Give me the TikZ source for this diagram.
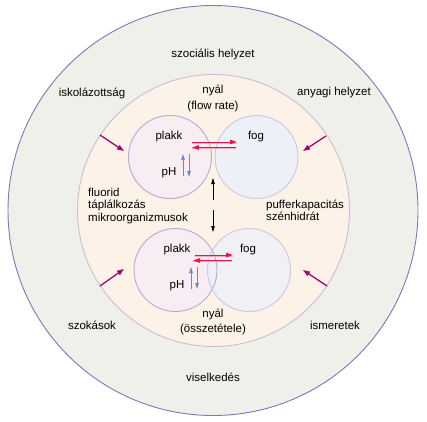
\documentclass[tikz,border=0pt]{standalone}
\usepackage{fontspec}
\setmainfont{Liberation Sans}
\usepackage{xcolor}
\usepackage{tikz}
\usetikzlibrary{arrows.meta}
\definecolor{kgray}{HTML}{F0F0EB}
\definecolor{kpeach}{HTML}{FDF2E7}
\definecolor{kpink}{HTML}{F8EDF3}
\definecolor{kblue}{HTML}{EEF0F8}
\definecolor{kring}{HTML}{8474B8}
\definecolor{kringlight}{HTML}{CDBBD8}
\definecolor{kcircle}{HTML}{B9A9D2}
\definecolor{kred}{HTML}{E0184A}
\definecolor{kredlight}{HTML}{F6A8BC}
\definecolor{kbluearr}{HTML}{7385C6}
\definecolor{kmagenta}{HTML}{9A0A6E}

\begin{document}
\begin{tikzpicture}[x=1pt, y=-1pt,
  lbl/.style={font=\fontsize{11.5}{12.6}\selectfont, inner sep=0pt, align=center},
  ring/.style={circle, inner sep=0pt, line width=0.9pt},
  redarr/.style={-{Triangle[length=7pt, width=4.5pt]}, kred, line width=1pt},
  redshadow/.style={kredlight, line width=1pt},
  bluearr/.style={-{Triangle[length=6pt, width=3.5pt]}, kbluearr, line width=1pt},
  blackarr/.style={-{Triangle[length=6pt, width=3.5pt]}, black, line width=0.8pt},
  infl/.style={-{Triangle[length=7pt, width=5pt]}, kmagenta, line width=1.3pt}
]
  \useasboundingbox (0,0) rectangle (427,421);

  \node[ring, draw=kring, fill=kgray, minimum size=410pt] (outer) at (213,210.5) {};
  \node[ring, draw=kringlight, fill=kpeach, minimum size=272pt] (inner) at (213.5,210.5) {};

  % felso par
  \node[ring, fill=kpink, minimum size=84pt] (plakkA) at (170,157) {};
  \node[ring, fill=kblue, minimum size=84pt] (fogA) at (256.5,157) {};
  % also par
  \node[ring, fill=kpink, minimum size=82pt] (plakkB) at (175.5,270) {};
  \node[ring, fill=kblue, minimum size=84pt, fill opacity=0.85] (fogB) at (249,270) {};
  \foreach \c in {plakkA,plakkB}
    \draw[kcircle, line width=0.9pt] (\c.center) circle[radius=41.5pt];
  \foreach \c in {fogA,fogB}
    \draw[kcircle!80!kbluearr!60, line width=0.9pt] (\c.center) circle[radius=41.5pt];

  \node[lbl] (szoc) at (213,54) {szociális helyzet};
  \node[lbl] (iskola) at (92,93) {iskolázottság};
  \node[lbl] (anyagi) at (334,93) {anyagi helyzet};
  \node[lbl] (nyalA) at (213,98.5) {nyál\\[3pt](flow rate)};
  \node[lbl] (plakkAt) at (169,137) {plakk};
  \node[lbl] (fogAt) at (256,137) {fog};
  \node[lbl] (pHA) at (169,173) {pH};
  \node[lbl, align=left, anchor=west] (balt) at (88,206) {fluorid\\táplálkozás\\mikroorganizmusok};
  \node[lbl, align=left, anchor=west] (jobbt) at (266,210.5) {pufferkapacitás\\szénhidrát};
  \node[lbl] (plakkBt) at (177,250) {plakk};
  \node[lbl] (fogBt) at (248,250) {fog};
  \node[lbl] (pHB) at (177,286) {pH};
  \node[lbl] (nyalB) at (213,322) {nyál\\[3pt](összetétele)};
  \node[lbl] (szokas) at (92,325) {szokások};
  \node[lbl] (ismeret) at (335,325) {ismeretek};
  \node[lbl] (visel) at (213,377) {viselkedés};

  % nyilak vegpontjai
  \coordinate (rA1) at (192,142); \coordinate (rA2) at (237,142);
  \coordinate (rA3) at (236,147.5); \coordinate (rA4) at (192,147.5);
  \coordinate (rB1) at (195,255); \coordinate (rB2) at (233,255);
  \coordinate (rB3) at (232,260.5); \coordinate (rB4) at (193,260.5);
  \coordinate (bA1) at (183,176); \coordinate (bA2) at (183,154);
  \coordinate (bA3) at (189,154); \coordinate (bA4) at (189,177);
  \coordinate (bB1) at (191,289); \coordinate (bB2) at (191,267);
  \coordinate (bB3) at (197,267); \coordinate (bB4) at (197,289);
  \coordinate (k1) at (213,200); \coordinate (k2) at (213,178);
  \coordinate (k3) at (213,210); \coordinate (k4) at (213,232);
  \coordinate (mTL) at (100,135); \coordinate (mTLe) at (124,151);
  \coordinate (mTR) at (326,136); \coordinate (mTRe) at (303,151);
  \coordinate (mBL) at (100,286); \coordinate (mBLe) at (124,269);
  \coordinate (mBR) at (327,286); \coordinate (mBRe) at (303,270);

  \foreach \a/\b in {rA1/rA2,rA3/rA4,rB1/rB2,rB3/rB4}
    \draw[redshadow] ([yshift=-1.3pt]\a) -- ([yshift=-1.3pt]\b);
  \foreach \a/\b in {rA1/rA2,rA3/rA4,rB1/rB2,rB3/rB4}
    \draw[redarr] (\a) -- (\b);
  \foreach \a/\b in {bA1/bA2,bA3/bA4,bB1/bB2,bB3/bB4}
    \draw[bluearr] (\a) -- (\b);
  \draw[blackarr] (k1) -- (k2);
  \draw[blackarr] (k3) -- (k4);
  \foreach \a/\b in {mTL/mTLe,mTR/mTRe,mBL/mBLe,mBR/mBRe}
    \draw[infl] (\a) -- (\b);
\end{tikzpicture}
\end{document}
